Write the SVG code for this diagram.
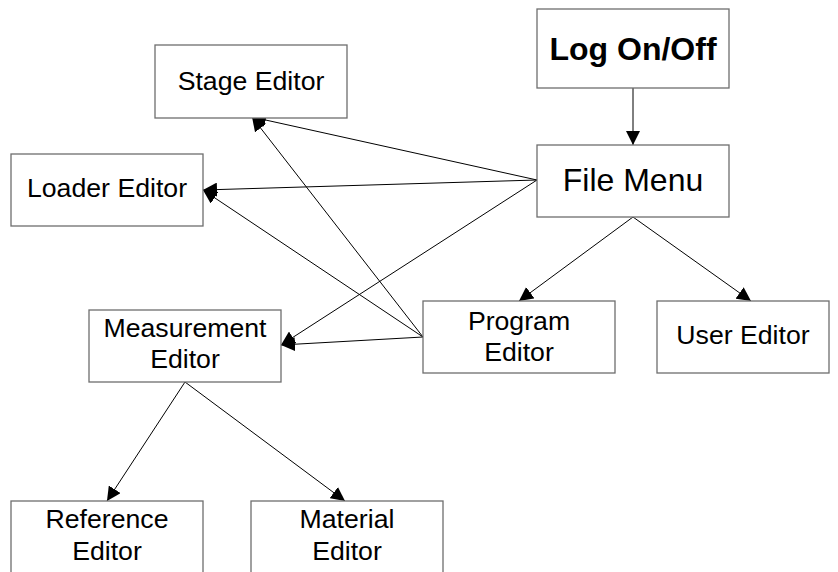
<svg xmlns="http://www.w3.org/2000/svg" width="838" height="572" viewBox="0 0 838 572">
<style>
.box{fill:#fff;stroke:#6e6e6e;stroke-width:1.3}
.t{font-family:"Liberation Sans",Arial,sans-serif;font-size:26.67px;fill:#000;text-anchor:middle}
.big{font-size:32px}
.bold{font-weight:bold}
.c line{stroke:#000;stroke-width:1;fill:none;marker-end:url(#ah)}
</style>
<defs>
<marker id="ah" markerUnits="userSpaceOnUse" markerWidth="15" markerHeight="14" refX="14" refY="7" orient="auto">
<path d="M0,0 L14,7 L0,14 z" fill="#000"/>
</marker>
</defs>
<rect width="838" height="572" fill="#fff"/>
<g class="c" id="connectors">
<line x1="633" y1="88" x2="633" y2="145"/>
<line x1="537" y1="180" x2="252" y2="117"/>
<line x1="537" y1="180" x2="203" y2="190"/>
<line x1="537" y1="180" x2="281" y2="345"/>
<line x1="423" y1="337" x2="252" y2="117"/>
<line x1="423" y1="337" x2="203" y2="190"/>
<line x1="423" y1="337" x2="281" y2="345"/>
<line x1="633" y1="217" x2="519" y2="301"/>
<line x1="633" y1="217" x2="751" y2="301"/>
<line x1="185" y1="382" x2="107" y2="501"/>
<line x1="185" y1="382" x2="345" y2="501"/>
</g>
<g id="stage">
<rect class="box" x="155" y="45" width="192" height="73"/>
<text class="t" x="251" y="90">Stage Editor</text>
</g>
<g id="logon">
<rect class="box" x="537" y="9" width="192" height="79"/>
<text class="t big bold" x="633" y="60">Log On/Off</text>
</g>
<g id="filemenu">
<rect class="box" x="537" y="145" width="192" height="72"/>
<text class="t big" x="633" y="191">File Menu</text>
</g>
<g id="loader">
<rect class="box" x="11" y="154" width="192" height="72"/>
<text class="t" x="107" y="197">Loader Editor</text>
</g>
<g id="measurement">
<rect class="box" x="89" y="310" width="192" height="72"/>
<text class="t" x="185" y="337">Measurement</text>
<text class="t" x="185" y="368">Editor</text>
</g>
<g id="program">
<rect class="box" x="423" y="301" width="192" height="72"/>
<text class="t" x="519" y="330">Program</text>
<text class="t" x="519" y="361">Editor</text>
</g>
<g id="user">
<rect class="box" x="657" y="301" width="172" height="72"/>
<text class="t" x="743" y="344">User Editor</text>
</g>
<g id="reference">
<rect class="box" x="11" y="501" width="192" height="80"/>
<text class="t" x="107" y="528">Reference</text>
<text class="t" x="107" y="560">Editor</text>
</g>
<g id="material">
<rect class="box" x="251" y="501" width="192" height="80"/>
<text class="t" x="347" y="528">Material</text>
<text class="t" x="347" y="560">Editor</text>
</g>
</svg>
